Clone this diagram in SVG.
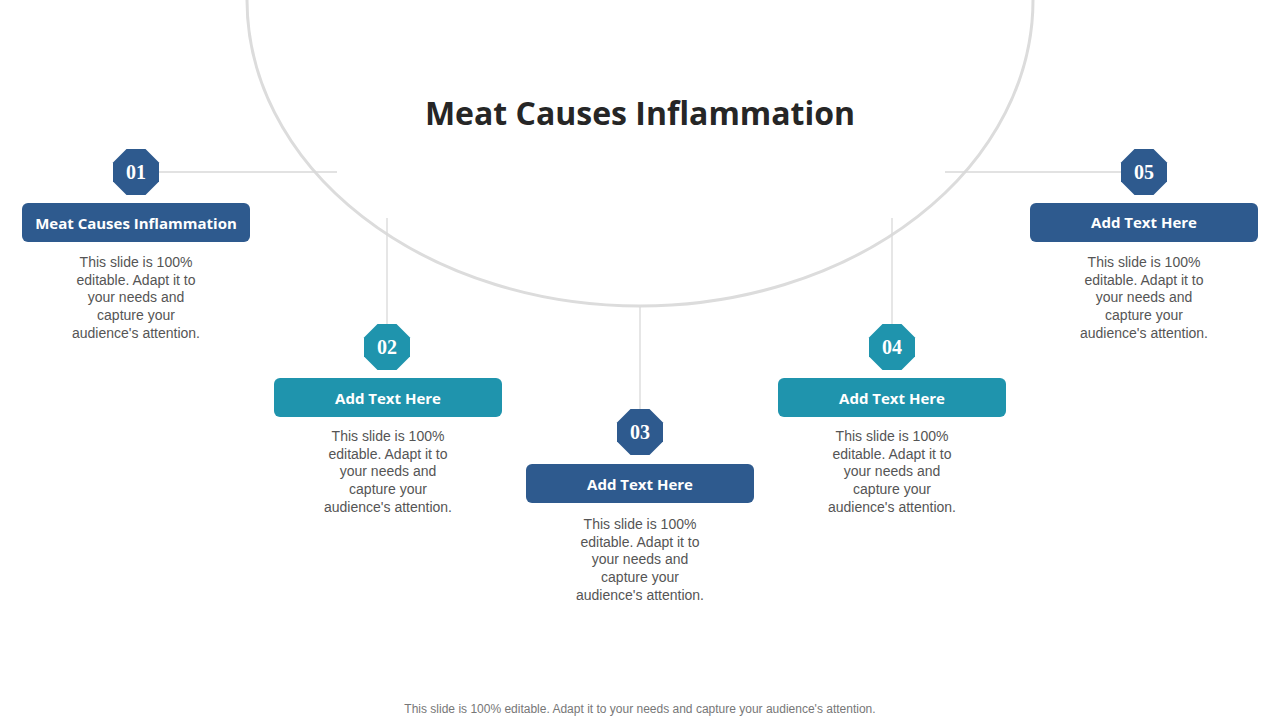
<svg xmlns="http://www.w3.org/2000/svg" width="1280" height="720" viewBox="0 0 1280 720">
<style>
.ln{stroke:#d9d9d9;stroke-width:1.3;fill:none}
.dk{fill:#2E5A8E}.tl{fill:#1F94AD}
.num{font-family:"Liberation Serif",serif;font-weight:bold;font-size:20px;fill:#fff;text-anchor:middle}
.hd{font-family:"Open Sans","Liberation Sans",sans-serif;font-weight:bold;font-size:15px;fill:#fff;text-anchor:middle}
.bd{font-family:"Liberation Sans",Arial,sans-serif;font-size:14px;fill:#555;text-anchor:middle}
</style>
<defs><polygon id="oct" points="-9.5,-23 9.5,-23 23,-9.5 23,9.5 9.5,23 -9.5,23 -23,9.5 -23,-9.5"/></defs>
<rect width="1280" height="720" fill="#fff"/>
<path d="M247,0 A393,306 0 0 0 1033,0" fill="none" stroke="#dcdcdc" stroke-width="3"/>
<text x="640" y="125" font-family="'Century Gothic','Open Sans','Liberation Sans',sans-serif" font-weight="bold" font-size="32" fill="#262626" text-anchor="middle">Meat Causes Inflammation</text>
<g id="connectors">
<line class="ln" x1="159" y1="172" x2="337" y2="172"/>
<line class="ln" x1="387" y1="218" x2="387" y2="324"/>
<line class="ln" x1="640" y1="307" x2="640" y2="410"/>
<line class="ln" x1="892" y1="218" x2="892" y2="324"/>
<line class="ln" x1="945" y1="172" x2="1121" y2="172"/>
</g>
<g id="n1"><use href="#oct" class="dk" x="136" y="172"/><text class="num" x="136" y="179">01</text>
<rect class="dk" x="22" y="203" width="228" height="39" rx="6"/><text class="hd" x="136" y="229">Meat Causes Inflammation</text>
<text class="bd"><tspan x="136" y="267">This slide is 100%</tspan><tspan x="136" y="285">editable. Adapt it to</tspan><tspan x="136" y="302">your needs and</tspan><tspan x="136" y="320">capture your</tspan><tspan x="136" y="338">audience's attention.</tspan></text></g>
<g id="n2"><use href="#oct" class="tl" x="387" y="347"/><text class="num" x="387" y="354">02</text>
<rect class="tl" x="274" y="378" width="228" height="39" rx="6"/><text class="hd" x="388" y="404">Add Text Here</text>
<text class="bd"><tspan x="388" y="441">This slide is 100%</tspan><tspan x="388" y="459">editable. Adapt it to</tspan><tspan x="388" y="476">your needs and</tspan><tspan x="388" y="494">capture your</tspan><tspan x="388" y="512">audience's attention.</tspan></text></g>
<g id="n3"><use href="#oct" class="dk" x="640" y="432"/><text class="num" x="640" y="439">03</text>
<rect class="dk" x="526" y="464" width="228" height="39" rx="6"/><text class="hd" x="640" y="490">Add Text Here</text>
<text class="bd"><tspan x="640" y="529">This slide is 100%</tspan><tspan x="640" y="547">editable. Adapt it to</tspan><tspan x="640" y="564">your needs and</tspan><tspan x="640" y="582">capture your</tspan><tspan x="640" y="600">audience's attention.</tspan></text></g>
<g id="n4"><use href="#oct" class="tl" x="892" y="347"/><text class="num" x="892" y="354">04</text>
<rect class="tl" x="778" y="378" width="228" height="39" rx="6"/><text class="hd" x="892" y="404">Add Text Here</text>
<text class="bd"><tspan x="892" y="441">This slide is 100%</tspan><tspan x="892" y="459">editable. Adapt it to</tspan><tspan x="892" y="476">your needs and</tspan><tspan x="892" y="494">capture your</tspan><tspan x="892" y="512">audience's attention.</tspan></text></g>
<g id="n5"><use href="#oct" class="dk" x="1144" y="172"/><text class="num" x="1144" y="179">05</text>
<rect class="dk" x="1030" y="203" width="228" height="39" rx="6"/><text class="hd" x="1144" y="228">Add Text Here</text>
<text class="bd"><tspan x="1144" y="267">This slide is 100%</tspan><tspan x="1144" y="285">editable. Adapt it to</tspan><tspan x="1144" y="302">your needs and</tspan><tspan x="1144" y="320">capture your</tspan><tspan x="1144" y="338">audience's attention.</tspan></text></g>
<text x="640" y="713" font-family="'Liberation Sans',Arial,sans-serif" font-size="12" fill="#777" text-anchor="middle">This slide is 100% editable. Adapt it to your needs and capture your audience's attention.</text>
</svg>
